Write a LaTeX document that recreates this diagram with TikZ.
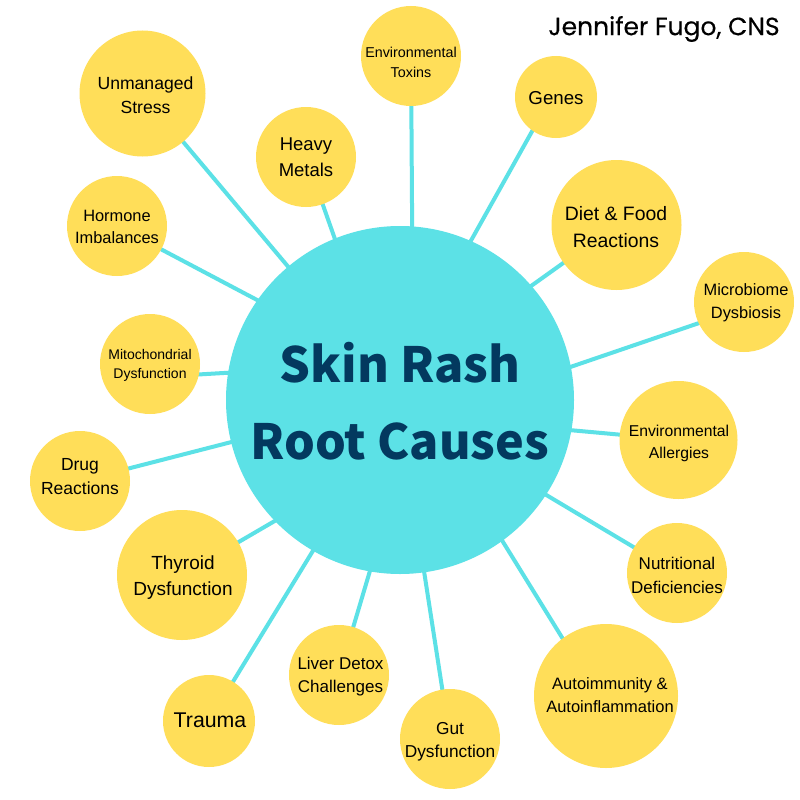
\documentclass[tikz,border=0pt]{standalone}
\usepackage{fontspec}
\setmainfont{Liberation Sans}
\newfontfamily\hubfont{Noto Sans CJK SC}
\newfontfamily\signfont[FakeBold=0.3]{Poppins}
\usetikzlibrary{backgrounds}
\definecolor{hubc}{HTML}{5CE1E6}
\definecolor{leafc}{HTML}{FFDE59}
\definecolor{hubtext}{HTML}{03395F}
\tikzset{
 leaf/.style={circle,fill=leafc,inner sep=0pt,minimum size=#1*2pt},
 hub/.style={circle,fill=hubc,inner sep=0pt,minimum size=348pt},
 hubline/.style={font=\hubfont\bfseries\fontsize{48.5}{48.5}\selectfont,text=hubtext,anchor=center},
 spoke/.style={draw=hubc,line width=4pt,shorten >=-4pt,shorten <=-2pt},
 lab/.style 2 args={inner sep=0pt,align=center,text=black,font=\fontsize{#1}{#2}\selectfont},
}
\begin{document}
\begin{tikzpicture}[x=1pt,y=-1pt]
\useasboundingbox (0,0) rectangle (800,800);
\node[hub] (hub) at (400,400) {};
\node[hubline] (t1) at (400,362.5) {Skin Rash};
\node[hubline] (t2) at (400,441) {Root Causes};
\node[font=\signfont\fontsize{25}{25}\selectfont] (sign) at (664,29) {Jennifer Fugo, CNS};
\node[leaf=63] (a) at (142.5,93.5) {};
\node[leaf=50] (b) at (411,56) {};
\node[leaf=41] (c) at (556,97) {};
\node[leaf=50] (d) at (306,157) {};
\node[leaf=50] (e) at (117,226) {};
\node[leaf=65] (f) at (616.5,225) {};
\node[leaf=50] (g) at (744,302) {};
\node[leaf=50] (h) at (150,364) {};
\node[leaf=59] (i) at (678.5,440) {};
\node[leaf=50] (j) at (80,481) {};
\node[leaf=65] (k) at (182,575) {};
\node[leaf=50] (l) at (677,573) {};
\node[leaf=72] (m) at (606,696) {};
\node[leaf=46] (n) at (209,721) {};
\node[leaf=50] (o) at (339,675) {};
\node[leaf=50] (p) at (450,739) {};
\node[lab={17.6}{24}] (la) at (145.5,95) {Unmanaged\\Stress};
\node[lab={14.3}{20}] (lb) at (411,62) {Environmental\\Toxins};
\node[lab={18.7}{24}] (lc) at (556,98) {Genes};
\node[lab={18.5}{26}] (ld) at (306,157) {Heavy\\Metals};
\node[lab={16.4}{22}] (le) at (117,227) {Hormone\\Imbalances};
\node[lab={19.4}{27}] (lf) at (616,227) {Diet \& Food\\Reactions};
\node[lab={16.4}{23.5}] (lg) at (746,303) {Microbiome\\Dysbiosis};
\node[lab={14}{19}] (lh) at (150,365.5) {Mitochondrial\\Dysfunction};
\node[lab={15.7}{22}] (li) at (679,443) {Environmental\\Allergies};
\node[lab={17.5}{24}] (lj) at (80,476.5) {Drug\\Reactions};
\node[lab={19}{26}] (lk) at (183,578) {Thyroid\\Dysfunction};
\node[lab={17}{24}] (ll) at (677,575) {Nutritional\\Deficiencies};
\node[lab={16.5}{23}] (lm) at (610,695) {Autoimmunity \&\\Autoinflammation};
\node[lab={21.3}{24}] (ln) at (210,720) {Trauma};
\node[lab={17}{23}] (lo) at (340.5,677) {Liver Detox\\Challenges};
\node[lab={17.3}{23}] (lp) at (450,742) {Gut\\Dysfunction};
\begin{pgfonlayer}{background}
\fill[white] (0,0) rectangle (800,800);
\draw[spoke] (a) -- (hub.130.6);
\draw[spoke] (b) -- (hub.86.3);
\draw[spoke] (c.235) -- (hub.66.8);
\draw[spoke] (d) -- (hub.112.7);
\draw[spoke] (e) -- (hub.145.9);
\draw[spoke] (f) -- (hub.41.5);
\draw[spoke] (g.205) -- (hub.11.6);
\draw[spoke] (h.-12.7) -- (hub.171.7);
\draw[spoke] (i) -- (hub.-10.2);
\draw[spoke] (j) -- (hub.194);
\draw[spoke] (k) -- (hub.224.5);
\draw[spoke] (l) -- (hub.-33.8);
\draw[spoke] (m.127) -- (hub.-54.6);
\draw[spoke] (n) -- (hub.240.6);
\draw[spoke] (o) -- (hub.260.1);
\draw[spoke] (p) -- (hub.-82);
\end{pgfonlayer}
\end{tikzpicture}
\end{document}
